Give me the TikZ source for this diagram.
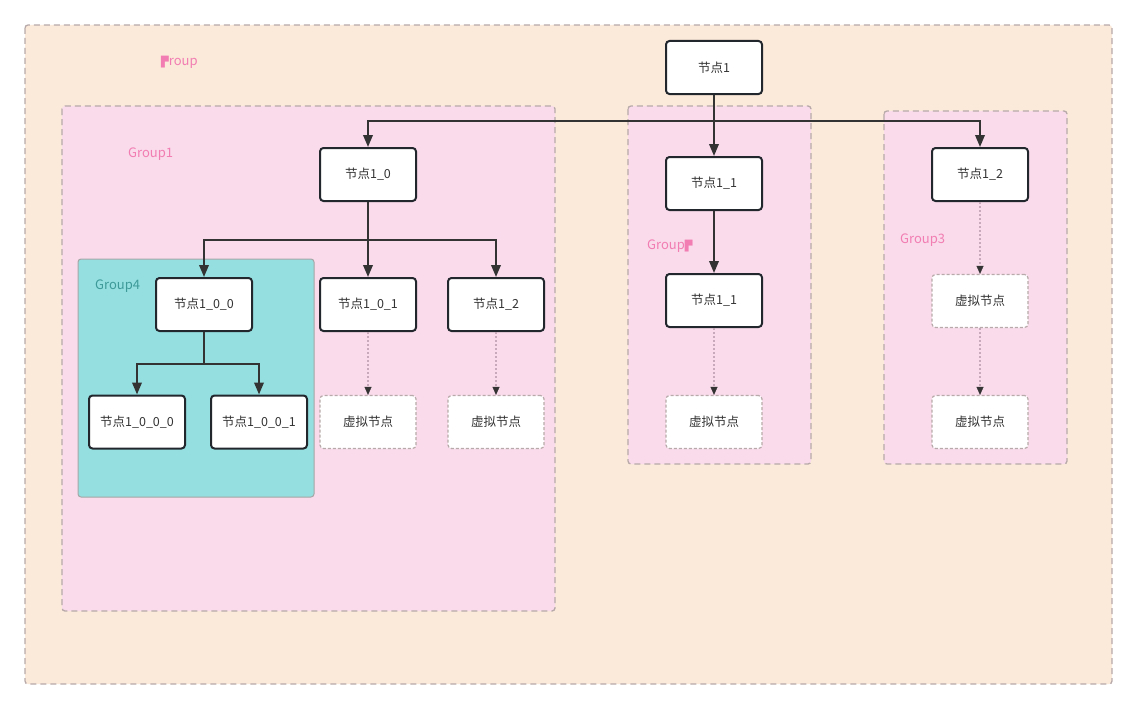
\documentclass[tikz,border=0pt]{standalone}
\usepackage{fontspec}
\setmainfont{Noto Sans CJK SC}
\newfontfamily\symfont{DejaVu Sans}
\usetikzlibrary{arrows.meta}
\definecolor{peach}{HTML}{FBE9D9}
\definecolor{pinkbg}{HTML}{F9DBEB}
\definecolor{teal4}{HTML}{95DFE0}
\definecolor{grpborder}{HTML}{B8AAAA}
\definecolor{nodeborder}{HTML}{22272E}
\definecolor{arrowc}{HTML}{333333}
\definecolor{pinklbl}{HTML}{F27DB2}
\definecolor{teallbl}{HTML}{3D9A98}
\definecolor{txt}{HTML}{333333}
\definecolor{dotline}{HTML}{C7A9BB}
\tikzset{
  grp/.style={draw=grpborder, line width=1.3pt, dash pattern=on 6pt off 4pt, rounded corners=3pt},
  realnode/.style={draw=nodeborder, fill=white, line width=2pt, rounded corners=3.5pt,
    minimum width=96pt, minimum height=53pt, inner sep=0pt, text=txt,
    font=\fontsize{12.5}{14}\selectfont},
  virtnode/.style={draw=grpborder, fill=white, line width=1.2pt, dash pattern=on 3pt off 2pt,
    rounded corners=3.5pt, minimum width=96pt, minimum height=53pt, inner sep=0pt, text=txt,
    font=\fontsize{12.5}{14}\selectfont},
  arr/.style={draw=arrowc, line width=2pt, -{Triangle[length=12pt,width=9.5pt]}},
  darr/.style={draw=dotline, line width=1.6pt, dash pattern=on 2pt off 2pt,
    -{Triangle[length=8pt,width=7pt,color=arrowc,fill=arrowc,line width=0.3pt]}},
  glbl/.style={font=\fontsize{13}{15}\selectfont, text=pinklbl, inner sep=0pt, anchor=west}
}
\begin{document}
\begin{tikzpicture}[x=1pt,y=-1pt]
\useasboundingbox (0,0) rectangle (1137,709);
\fill[white] (0,0) rectangle (1137,709);
% groups
\draw[grp, fill=peach] (25,25) rectangle (1112,684);
\draw[grp, fill=pinkbg] (62,106) rectangle (555,611);
\draw[grp, fill=pinkbg] (628,106) rectangle (811,464);
\draw[grp, fill=pinkbg] (884,111) rectangle (1067,464);
\draw[draw=gray!70, fill=teal4, line width=1pt, rounded corners=3pt] (78,259) rectangle (314,497);
% group labels
\node[glbl] (gl0) at (161,62) {{\symfont\fontsize{10}{12}\selectfont ▛}roup};
\node[glbl] (gl1) at (128,154) {Group1};
\node[glbl] (gl2) at (647,246) {Group{\symfont\fontsize{10}{12}\selectfont ▛}};
\node[glbl] (gl3) at (900,240) {Group3};
\node[glbl, text=teallbl] (gl4) at (95,286) {Group4};
% nodes
\node[realnode] (n1) at (714,67.5) {节点1};
\node[realnode] (n10) at (368,174.5) {节点1\_0};
\node[realnode] (n11) at (714,183.5) {节点1\_1};
\node[realnode] (n12r) at (980,174.5) {节点1\_2};
\node[realnode] (n100) at (204,304.5) {节点1\_0\_0};
\node[realnode] (n101) at (368,304.5) {节点1\_0\_1};
\node[realnode] (n12) at (496,304.5) {节点1\_2};
\node[realnode] (n11b) at (714,300.5) {节点1\_1};
\node[realnode] (n1000) at (137,422) {节点1\_0\_0\_0};
\node[realnode] (n1001) at (259,422) {节点1\_0\_0\_1};
\node[virtnode] (v1) at (368,422) {虚拟节点};
\node[virtnode] (v2) at (496,422) {虚拟节点};
\node[virtnode] (v3) at (714,422) {虚拟节点};
\node[virtnode] (v4) at (980,301) {虚拟节点};
\node[virtnode] (v5) at (980,422) {虚拟节点};
% junctions
\coordinate (j1) at (714,121);
\coordinate (j2) at (368,240);
\coordinate (j3) at (204,364);
% connectors
\draw[arr] (n1) -- (n11);
\draw[arr] (j1) -| (n10);
\draw[arr] (j1) -| (n12r);
\draw[arr] (n10) -- (n101);
\draw[arr] (j2) -| (n100);
\draw[arr] (j2) -| (n12);
\draw[arr] (n100.south) -- (j3) -| (n1000);
\draw[arr] (j3) -| (n1001);
\draw[arr] (n11) -- (n11b);
\draw[darr] (n101) -- (v1);
\draw[darr] (n12) -- (v2);
\draw[darr] (n11b) -- (v3);
\draw[darr] (n12r) -- (v4);
\draw[darr] (v4) -- (v5);
\end{tikzpicture}
\end{document}
